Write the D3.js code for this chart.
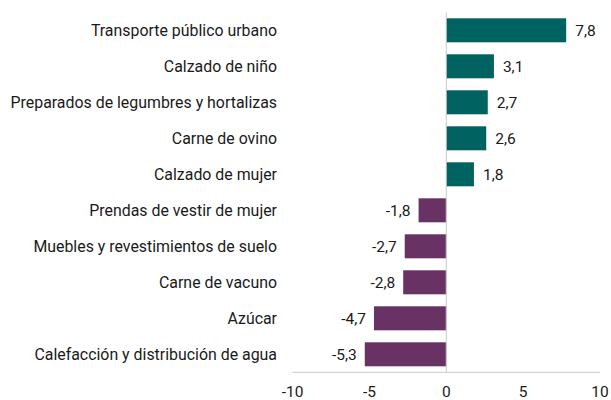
<!DOCTYPE html>
<html>
<head>
<meta charset="utf-8">
<script src="https://cdn.jsdelivr.net/npm/d3@7"></script>
<style>
  body { margin: 0; background: #fff; }
  text { font-family: Roboto, "Noto Sans", sans-serif; fill: #1a1a1a; }
</style>
</head>
<body>
<svg id="chart" width="611" height="400"></svg>
<script>
// categories, top to bottom
var categories = [
    "Transporte público urbano",
    "Calzado de niño",
    "Preparados de legumbres y hortalizas",
    "Carne de ovino",
    "Calzado de mujer",
    "Prendas de vestir de mujer",
    "Muebles y revestimientos de suelo",
    "Carne de vacuno",
    "Azúcar",
    "Calefacción y distribución de agua"
];
var values = [7.8, 3.1, 2.7, 2.6, 1.8, -1.8, -2.7, -2.8, -4.7, -5.3];
var xTicks = [-10, -5, 0, 5, 10];

var svg = d3.select("#chart");

var x = d3.scaleLinear().domain([-10, 10]).range([292.5, 600]);
var y = d3.scaleBand().domain(categories).range([12.3, 372.3]).paddingInner(1 / 3).paddingOuter(1 / 6);

var fmt = function (v) { return String(v).replace(".", ","); };

// bars
svg.selectAll("rect.bar")
    .data(values)
    .enter().append("rect")
    .attr("class", "bar")
    .attr("x", function (d) { return x(Math.min(0, d)); })
    .attr("y", function (d, i) { return y(categories[i]); })
    .attr("width", function (d) { return Math.abs(x(d) - x(0)); })
    .attr("height", y.bandwidth())
    .attr("fill", function (d) { return d >= 0 ? "#016262" : "#693265"; });

// zero line
svg.append("line")
    .attr("x1", x(0)).attr("x2", x(0))
    .attr("y1", y.range()[0]).attr("y2", y.range()[1])
    .attr("stroke", "#c8c8c8").attr("stroke-width", 1);

// bottom axis line
svg.append("line")
    .attr("x1", x(-10)).attr("x2", x(10))
    .attr("y1", y.range()[1]).attr("y2", y.range()[1])
    .attr("stroke", "#c8c8c8").attr("stroke-width", 1);

// tick labels
svg.selectAll("text.tick")
    .data(xTicks)
    .enter().append("text")
    .attr("class", "tick")
    .attr("x", function (d) { return x(d); })
    .attr("y", 396.5)
    .attr("text-anchor", "middle")
    .style("font-size", "15.5px")
    .text(function (d) { return d; });

// category labels
svg.selectAll("text.cat")
    .data(categories)
    .enter().append("text")
    .attr("class", "cat")
    .attr("x", 277)
    .attr("y", function (d) { return y(d) + y.bandwidth() / 2; })
    .attr("dy", "0.35em")
    .attr("text-anchor", "end")
    .style("font-size", "15.9px")
    .text(function (d) { return d; });

// value labels
svg.selectAll("text.val")
    .data(values)
    .enter().append("text")
    .attr("class", "val")
    .attr("x", function (d) { return d >= 0 ? x(d) + 9 : x(d) - 8; })
    .attr("y", function (d, i) { return y(categories[i]) + y.bandwidth() / 2; })
    .attr("dy", "0.35em")
    .attr("text-anchor", function (d) { return d >= 0 ? "start" : "end"; })
    .style("font-size", "15.5px")
    .text(function (d) { return fmt(d); });
</script>
</body>
</html>
